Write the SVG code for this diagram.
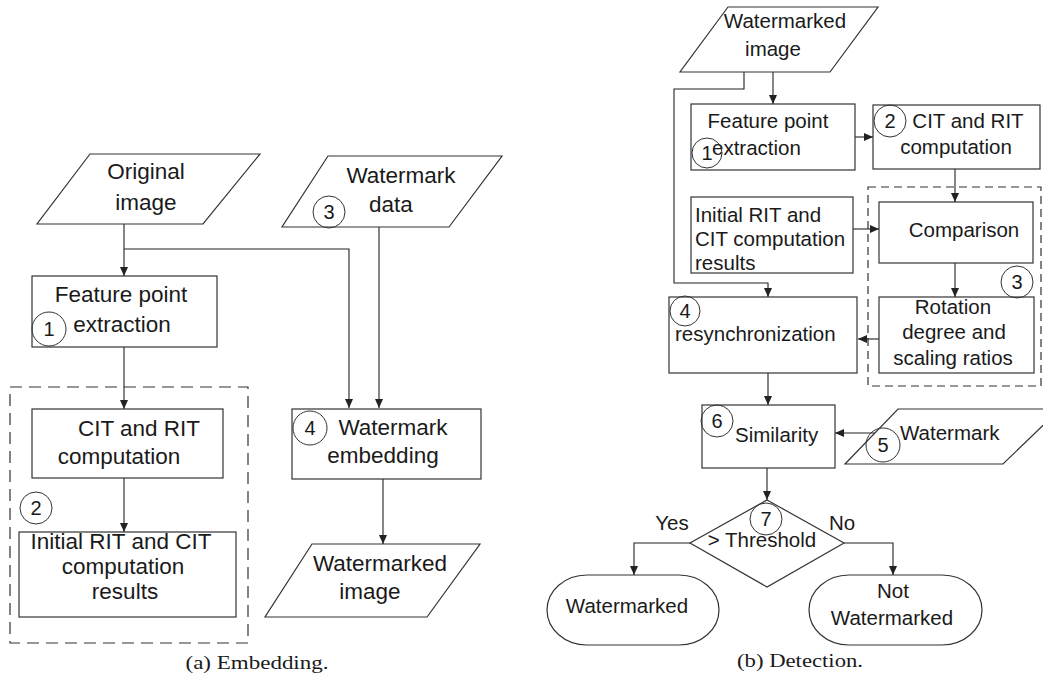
<svg xmlns="http://www.w3.org/2000/svg" width="1043" height="678" viewBox="0 0 1043 678">
<defs>
<marker id="ah" markerUnits="userSpaceOnUse" markerWidth="9" markerHeight="8" refX="9" refY="4" orient="auto">
<path d="M0,0 L9,4 L0,8 z" fill="#222"/>
</marker>
<style>
.s{fill:#fff;stroke:#333;stroke-width:1.2}
.c{fill:none;stroke:#333;stroke-width:1}
.d1{fill:none;stroke:#333;stroke-width:1.2;stroke-dasharray:12 7}
.d2{fill:none;stroke:#333;stroke-width:1.2;stroke-dasharray:8 5}
.l{font-family:"Liberation Sans",Arial,sans-serif;font-size:22.5px;fill:#1a1a1a}
.r{font-family:"Liberation Sans",Arial,sans-serif;font-size:20.5px;fill:#1a1a1a}
.m{text-anchor:middle}
.n{font-family:"Liberation Sans",Arial,sans-serif;font-size:20px;fill:#1a1a1a;text-anchor:middle}
.cap{font-family:"Liberation Serif","Times New Roman",serif;font-size:19px;fill:#1a1a1a;text-anchor:middle}
.k{fill:none;stroke:#222;stroke-width:1.1}
</style>
</defs>
<rect width="1043" height="678" fill="#fff"/>

<!-- dashed groupings -->
<rect class="d1" x="10" y="387" width="238" height="256"/>
<rect class="d2" x="868" y="187" width="173" height="199"/>

<g id="connectors">
<path class="k" d="M124,224 V276" marker-end="url(#ah)"/>
<path class="k" d="M124,249 H349 V408" marker-end="url(#ah)"/>
<path class="k" d="M379,227 V408" marker-end="url(#ah)"/>
<path class="k" d="M124,347 V409" marker-end="url(#ah)"/>
<path class="k" d="M124,478 V532" marker-end="url(#ah)"/>
<path class="k" d="M383,479 V544" marker-end="url(#ah)"/>
<path class="k" d="M773,72 V104" marker-end="url(#ah)"/>
<path class="k" d="M744,72 V89 H674 V283 H768 V297" marker-end="url(#ah)"/>
<path class="k" d="M855,137 H873" marker-end="url(#ah)"/>
<path class="k" d="M955,169 V202" marker-end="url(#ah)"/>
<path class="k" d="M853,229 H879" marker-end="url(#ah)"/>
<path class="k" d="M955,263 V297" marker-end="url(#ah)"/>
<path class="k" d="M879,339 H858" marker-end="url(#ah)"/>
<path class="k" d="M768,373 V405" marker-end="url(#ah)"/>
<path class="k" d="M875,433 H835" marker-end="url(#ah)"/>
<path class="k" d="M767,468 V500" marker-end="url(#ah)"/>
<path class="k" d="M690,543 H634 V575" marker-end="url(#ah)"/>
<path class="k" d="M844,543 H893 V575" marker-end="url(#ah)"/>
</g>

<!-- (a) Embedding -->
<g id="a-original">
<polygon class="s" points="90,154 260,154 203,224 37,224"/>
<text class="l m" x="146" y="179">Original</text>
<text class="l m" x="146" y="210">image</text>
</g>
<g id="a-feature">
<rect class="s" x="32" y="276" width="185" height="71"/>
<text class="l m" x="121" y="302">Feature point</text>
<text class="l m" x="122" y="332">extraction</text>
<circle class="c" cx="49" cy="329" r="17"/>
<text class="n" x="49" y="336">1</text>
</g>
<g id="a-cit">
<rect class="s" x="32" y="409" width="191" height="69"/>
<text class="l m" x="139" y="436">CIT and RIT</text>
<text class="l m" x="119" y="464">computation</text>
</g>
<g id="a-initial">
<rect class="s" x="19" y="532" width="217" height="85"/>
<text class="l m" x="121" y="549">Initial RIT and CIT</text>
<text class="l m" x="123" y="574">computation</text>
<text class="l m" x="125" y="599">results</text>
<circle class="c" cx="36" cy="508" r="16"/>
<text class="n" x="36" y="515">2</text>
</g>
<g id="a-wmdata">
<polygon class="s" points="328,156 502,156 449,227 282,227"/>
<text class="l m" x="401" y="183">Watermark</text>
<text class="l m" x="391" y="212">data</text>
<circle class="c" cx="329" cy="212" r="16"/>
<text class="n" x="329" y="219">3</text>
</g>
<g id="a-embed">
<rect class="s" x="292" y="409" width="189" height="70"/>
<text class="l m" x="393" y="435">Watermark</text>
<text class="l m" x="383" y="463">embedding</text>
<circle class="c" cx="310" cy="428" r="17"/>
<text class="n" x="310" y="435">4</text>
</g>
<g id="a-wmimage">
<polygon class="s" points="312,544 480,544 427,617 265,617"/>
<text class="l m" x="380" y="571">Watermarked</text>
<text class="l m" x="370" y="599">image</text>
</g>
<text class="cap" x="257" y="669" textLength="143" lengthAdjust="spacingAndGlyphs">(a) Embedding.</text>

<!-- (b) Detection -->
<g id="b-wmimage">
<polygon class="s" points="728,7 878,7 830,72 680,72"/>
<text class="r m" x="785" y="28">Watermarked</text>
<text class="r m" x="773" y="56">image</text>
</g>
<g id="b-feature">
<rect class="s" x="691" y="104" width="164" height="66"/>
<text class="r m" x="768" y="128">Feature point</text>
<text class="r" x="712" y="155">extraction</text>
<circle class="c" cx="707" cy="153" r="15"/>
<text class="n" x="707" y="160">1</text>
</g>
<g id="b-cit">
<rect class="s" x="873" y="105" width="167" height="64"/>
<text class="r m" x="968" y="128">CIT and RIT</text>
<text class="r m" x="956" y="154">computation</text>
<circle class="c" cx="890" cy="121" r="16"/>
<text class="n" x="890" y="128">2</text>
</g>
<g id="b-initial">
<rect class="s" x="691" y="197" width="162" height="76"/>
<text class="r" x="695" y="222">Initial RIT and</text>
<text class="r" x="695" y="246">CIT computation</text>
<text class="r" x="695" y="270">results</text>
</g>
<g id="b-comparison">
<rect class="s" x="879" y="202" width="154" height="61"/>
<text class="r m" x="964" y="237">Comparison</text>
</g>
<g id="b-rotation">
<rect class="s" x="879" y="297" width="155" height="76"/>
<text class="r m" x="953" y="314">Rotation</text>
<text class="r m" x="954" y="339">degree and</text>
<text class="r m" x="953" y="365">scaling ratios</text>
<circle class="c" cx="1017" cy="282" r="16"/>
<text class="n" x="1017" y="289">3</text>
</g>
<g id="b-resync">
<rect class="s" x="669" y="297" width="188" height="76"/>
<text class="r" x="675" y="341">resynchronization</text>
<circle class="c" cx="685" cy="311" r="15"/>
<text class="n" x="685" y="318">4</text>
</g>
<g id="b-similarity">
<rect class="s" x="702" y="405" width="133" height="63"/>
<text class="r" x="735" y="442">Similarity</text>
<circle class="c" cx="717" cy="421" r="16"/>
<text class="n" x="717" y="428">6</text>
</g>
<g id="b-watermark">
<polygon class="s" points="898,409 1060,409 1003,464 845,464"/>
<text class="r" x="900" y="440">Watermark</text>
<circle class="c" cx="883" cy="445" r="17"/>
<text class="n" x="883" y="452">5</text>
</g>
<g id="b-threshold">
<polygon class="s" points="767,500 844,543 767,587 690,543"/>
<text class="r m" x="762" y="547">&gt; Threshold</text>
<circle class="c" cx="766" cy="519" r="16"/>
<text class="n" x="766" y="526">7</text>
<text class="r m" x="672" y="530">Yes</text>
<text class="r m" x="842" y="530">No</text>
</g>
<g id="b-watermarked">
<rect class="s" x="547" y="575" width="172" height="70" rx="40" ry="35"/>
<text class="r m" x="627" y="613">Watermarked</text>
</g>
<g id="b-notwatermarked">
<rect class="s" x="809" y="575" width="173" height="70" rx="40" ry="35"/>
<text class="r m" x="893" y="598">Not</text>
<text class="r m" x="892" y="625">Watermarked</text>
</g>
<text class="cap" x="800" y="667" textLength="126" lengthAdjust="spacingAndGlyphs">(b) Detection.</text>
</svg>
